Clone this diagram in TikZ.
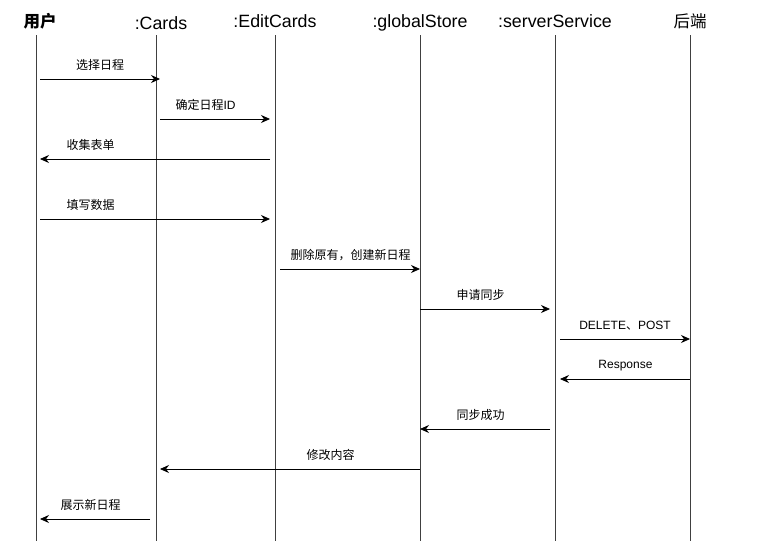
\documentclass[tikz,border=0pt]{standalone}
\usepackage{fontspec}
\setmainfont{Liberation Sans}
\newfontfamily\cjk{Noto Sans CJK SC}
\usetikzlibrary{arrows.meta}
\begin{document}
\begin{tikzpicture}[x=1pt,y=-1pt,
  head/.style={font=\fontsize{17.8}{20}\selectfont, anchor=base, inner sep=0pt},
  cjkhead/.style={font=\fontsize{16.5}{18}\selectfont\cjk, anchor=base, inner sep=0pt},
  lbl/.style={font=\fontsize{12}{14}\selectfont, inner sep=0pt, anchor=center},
  life/.style={draw=black!75, line width=1pt},
  msg/.style={line width=0.8pt, -{Stealth[length=9pt,width=8pt,inset=3pt]}}]
\useasboundingbox (0,0) rectangle (760,541);
% heads
\node[cjkhead] (hu) at (40,27) {\bfseries 用户};
\node[head] (hc) at (161,29) {:Cards};
\node[head] (he) at (275,27) {:EditCards};
\node[head] (hg) at (420,27) {:globalStore};
\node[head] (hs) at (555,27) {:serverService};
\node[cjkhead] (hb) at (690,27) {后端};
% lifelines
\foreach \n/\x in {u/36,c/156,e/275,g/420,s/555,b/690}{
  \coordinate (\n T) at (\x,35);
  \coordinate (\n B) at (\x,541);
  \draw[life] (\n T) -- (\n B);
}
% message end points
\coordinate (m1a) at (40,79);   \coordinate (m1b) at (160,79);
\coordinate (m2a) at (160,119); \coordinate (m2b) at (270,119);
\coordinate (m3a) at (270,159); \coordinate (m3b) at (40,159);
\coordinate (m4a) at (40,219);  \coordinate (m4b) at (270,219);
\coordinate (m5a) at (280,269); \coordinate (m5b) at (420,269);
\coordinate (m6a) at (420,309); \coordinate (m6b) at (550,309);
\coordinate (m7a) at (560,339); \coordinate (m7b) at (690,339);
\coordinate (m8a) at (690,379); \coordinate (m8b) at (560,379);
\coordinate (m9a) at (550,429); \coordinate (m9b) at (420,429);
\coordinate (m10a) at (420,469); \coordinate (m10b) at (160,469);
\coordinate (m11a) at (150,519); \coordinate (m11b) at (40,519);
\foreach \i in {1,...,11}{\draw[msg] (m\i a) -- (m\i b);}
% labels
\node[lbl] (l1) at (100,65) {\cjk 选择日程};
\node[lbl] (l2) at (205.5,105) {\cjk 确定日程\normalfont ID};
\node[lbl] (l3) at (90.5,145) {\cjk 收集表单};
\node[lbl] (l4) at (90.5,205) {\cjk 填写数据};
\node[lbl] (l5) at (350.5,255) {\cjk 删除原有，创建新日程};
\node[lbl] (l6) at (480.5,295) {\cjk 申请同步};
\node[lbl] (l7) at (625,326) {DELETE{\cjk 、}POST};
\node[lbl] (l8) at (625.5,366) {Response};
\node[lbl] (l9) at (480.5,415) {\cjk 同步成功};
\node[lbl] (l10) at (330.5,455) {\cjk 修改内容};
\node[lbl] (l11) at (90.5,505) {\cjk 展示新日程};
\end{tikzpicture}
\end{document}
